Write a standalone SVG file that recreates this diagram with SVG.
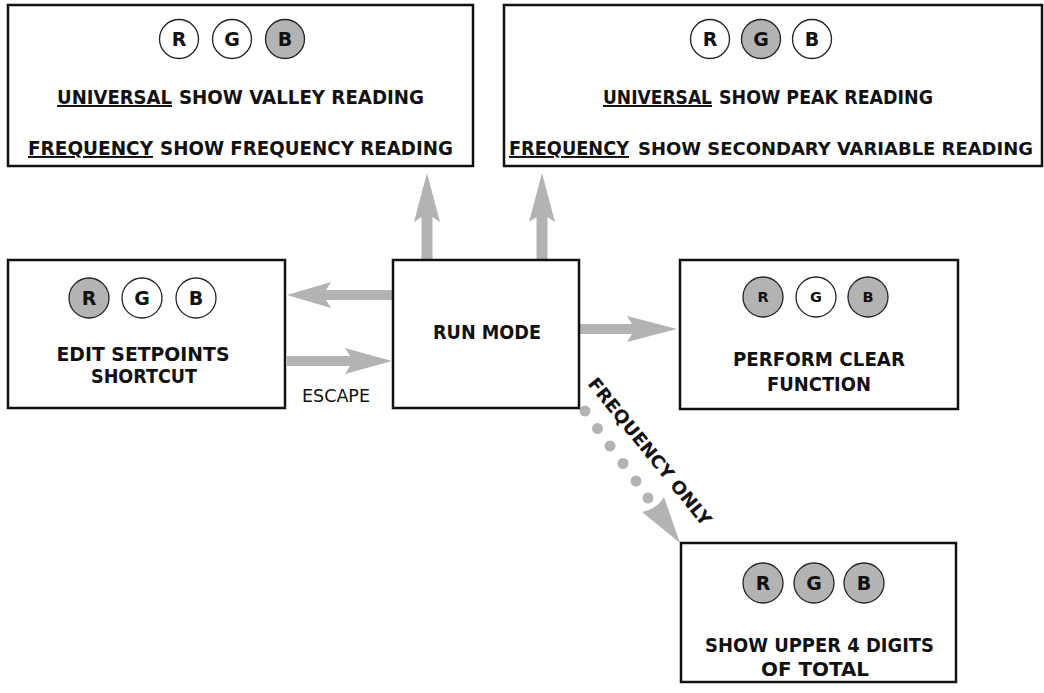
<svg xmlns="http://www.w3.org/2000/svg" width="1044" height="693" viewBox="0 0 1044 693">
<style>
.box{fill:#fff;stroke:#111;stroke-width:2.5}
.led{stroke:#222;stroke-width:1.3}
.on{fill:#b3b3b3}
.off{fill:#fff}
.t{font-family:"DejaVu Sans",Verdana,sans-serif;font-weight:bold;font-size:19.5px;fill:#111;text-anchor:middle}
.s{text-anchor:start}
.c{font-size:19px}
.ts{font-size:14.5px}
.u{text-decoration:underline}
.lbl{font-family:"DejaVu Sans",Verdana,sans-serif;font-size:18px;fill:#111}
.arr{fill:#b3b3b3}
</style>
<rect width="1044" height="693" fill="#fff"/>
<g id="connectors">
<polygon class="arr" points="287,295 331,282 326,290 393,290 393,300 326,300 331,308"/>
<polygon class="arr" points="287,356 350,356 345,348 392,361 345,374 350,366 287,366"/>
<polygon class="arr" points="579,324 632,324 627,316 677,329 627,342 632,334 579,334"/>
<polygon class="arr" points="421.5,260 421.5,217 414,222 427,173 440,222 432.5,217 432.5,260"/>
<polygon class="arr" points="536.5,260 536.5,217 529,222 542,173 555,222 547.5,217 547.5,260"/>
<g class="arr">
<circle cx="585" cy="411" r="5.5"/>
<circle cx="597.5" cy="428.5" r="5.5"/>
<circle cx="610" cy="446" r="5.5"/>
<circle cx="623" cy="463.5" r="5.5"/>
<circle cx="636" cy="481" r="5.5"/>
<circle cx="648" cy="498" r="5.5"/>
<path d="M680,543 L642,512 Q657,509 664,497 Z"/>
</g>
<text class="lbl" x="302" y="402" textLength="68" lengthAdjust="spacingAndGlyphs">ESCAPE</text>
<text class="t s" style="font-size:18px" transform="translate(587,384) rotate(51)" textLength="184" lengthAdjust="spacingAndGlyphs">FREQUENCY ONLY</text>
</g>
<g id="valley">
<rect class="box" x="8" y="5" width="465" height="161"/>
<circle class="led off" cx="179" cy="39" r="19.5"/>
<circle class="led off" cx="232" cy="39" r="19.5"/>
<circle class="led on" cx="285" cy="39" r="19.5"/>
<text class="t c" x="179" y="46">R</text>
<text class="t c" x="232" y="46">G</text>
<text class="t c" x="285" y="46">B</text>
<text class="t s u" x="57" y="104" textLength="115" lengthAdjust="spacingAndGlyphs">UNIVERSAL</text>
<text class="t s" x="179" y="104" textLength="245" lengthAdjust="spacingAndGlyphs">SHOW VALLEY READING</text>
<text class="t s u" x="28" y="155" textLength="125" lengthAdjust="spacingAndGlyphs">FREQUENCY</text>
<text class="t s" x="160" y="155" textLength="293" lengthAdjust="spacingAndGlyphs">SHOW FREQUENCY READING</text>
</g>
<g id="peak">
<rect class="box" x="504" y="5" width="538" height="161"/>
<circle class="led off" cx="710" cy="39" r="19.5"/>
<circle class="led on" cx="761" cy="39" r="19.5"/>
<circle class="led off" cx="812" cy="39" r="19.5"/>
<text class="t c" x="710" y="46">R</text>
<text class="t c" x="761" y="46">G</text>
<text class="t c" x="812" y="46">B</text>
<text class="t s u" x="603" y="104" textLength="109" lengthAdjust="spacingAndGlyphs">UNIVERSAL</text>
<text class="t s" x="719" y="104" textLength="214" lengthAdjust="spacingAndGlyphs">SHOW PEAK READING</text>
<text class="t s u" x="509" y="155" textLength="120" lengthAdjust="spacingAndGlyphs">FREQUENCY</text>
<text class="t s" style="font-size:17.8px" x="638" y="155" textLength="395" lengthAdjust="spacingAndGlyphs">SHOW SECONDARY VARIABLE READING</text>
</g>
<g id="edit">
<rect class="box" x="8" y="260" width="277" height="148"/>
<circle class="led on" cx="89" cy="298" r="20"/>
<circle class="led off" cx="142" cy="298" r="20"/>
<circle class="led off" cx="196" cy="298" r="20"/>
<text class="t c" x="89" y="305">R</text>
<text class="t c" x="142" y="305">G</text>
<text class="t c" x="196" y="305">B</text>
<text class="t" x="143" y="361" textLength="173" lengthAdjust="spacingAndGlyphs">EDIT SETPOINTS</text>
<text class="t" x="144" y="383" textLength="106" lengthAdjust="spacingAndGlyphs">SHORTCUT</text>
</g>
<g id="run">
<rect class="box" x="393" y="260" width="186" height="148"/>
<text class="t" x="487" y="339" textLength="108" lengthAdjust="spacingAndGlyphs">RUN MODE</text>
</g>
<g id="clear">
<rect class="box" x="680" y="260" width="278" height="149"/>
<circle class="led on" cx="763" cy="297" r="20"/>
<circle class="led off" cx="816" cy="297" r="20"/>
<circle class="led on" cx="868" cy="297" r="20"/>
<text class="t ts" x="763" y="302">R</text>
<text class="t ts" x="816" y="302">G</text>
<text class="t ts" x="868" y="302">B</text>
<text class="t" x="819" y="366" textLength="172" lengthAdjust="spacingAndGlyphs">PERFORM CLEAR</text>
<text class="t" x="819" y="391" textLength="104" lengthAdjust="spacingAndGlyphs">FUNCTION</text>
</g>
<g id="total">
<rect class="box" x="681" y="543" width="275" height="139"/>
<circle class="led on" cx="763" cy="583" r="20"/>
<circle class="led on" cx="814" cy="583" r="20"/>
<circle class="led on" cx="864" cy="583" r="20"/>
<text class="t c" x="763" y="590">R</text>
<text class="t c" x="814" y="590">G</text>
<text class="t c" x="864" y="590">B</text>
<text class="t" x="819.5" y="652" textLength="229" lengthAdjust="spacingAndGlyphs">SHOW UPPER 4 DIGITS</text>
<text class="t" x="815" y="676" textLength="108" lengthAdjust="spacingAndGlyphs">OF TOTAL</text>
</g>
</svg>
